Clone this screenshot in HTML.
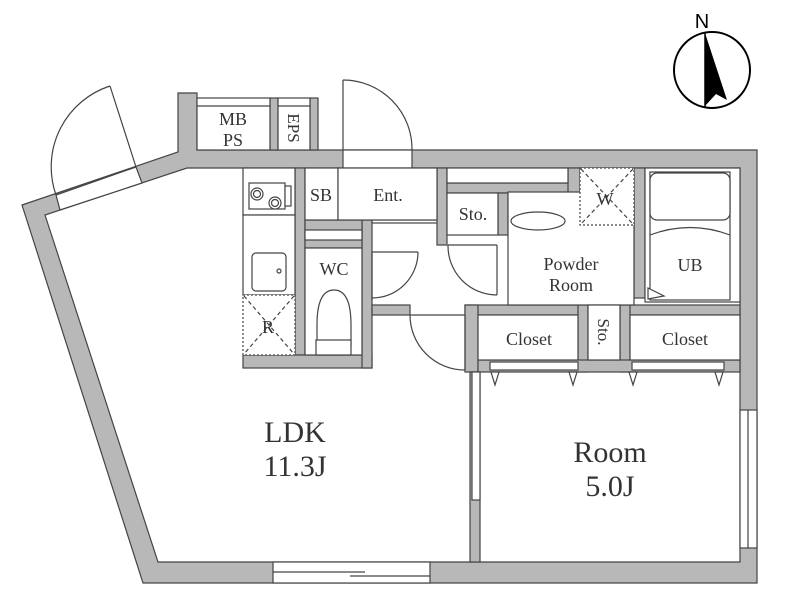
<!DOCTYPE html>
<html><head><meta charset="utf-8"><style>
html,body{margin:0;padding:0;background:#fff;}
svg{display:block;}
text{font-family:"Liberation Serif",serif;fill:#333;}
</style></head><body>
<svg width="800" height="598" viewBox="0 0 800 598" xmlns="http://www.w3.org/2000/svg">
<g stroke="#444" stroke-width="1.2" fill="#b8b8b8">
<path d="M22,205 L178,152 L178,93 L197,93 L197,150 L757,150 L757,583 L143,583 Z M45,215 L158,562 L740,562 L740,168 L187,168 Z" fill-rule="evenodd"/>
<rect x="270" y="98" width="8" height="52"/>
<rect x="310" y="98" width="8" height="52"/>
<rect x="295" y="168" width="10" height="187"/>
<rect x="243" y="355" width="129" height="13"/>
<rect x="362" y="220" width="10" height="148"/>
<rect x="305" y="220" width="57" height="28"/>
<rect x="372" y="220" width="75" height="3" fill="#fff"/>
<rect x="437" y="168" width="10" height="77"/>
<rect x="447" y="183" width="126" height="10"/>
<rect x="498" y="193" width="10" height="42"/>
<rect x="568" y="168" width="12" height="57"/>
<rect x="634" y="168" width="11" height="130"/>
<rect x="465" y="305" width="275" height="10"/>
<rect x="372" y="305" width="38" height="10"/>
<rect x="465" y="305" width="13" height="67"/>
<rect x="578" y="305" width="10" height="67"/>
<rect x="620" y="305" width="10" height="67"/>
<rect x="478" y="360" width="262" height="12"/>
<rect x="470" y="372" width="10" height="190"/>
</g>
<g stroke="#444" stroke-width="1.2" fill="#fff">
<polygon points="56,195 136,167 142,183 60,210"/>
<rect x="273" y="562" width="157" height="21"/>
<line x1="273" y1="572" x2="365" y2="572"/><line x1="350" y1="576" x2="430" y2="576"/>
<rect x="740" y="410" width="17" height="138"/>
<line x1="748" y1="410" x2="748" y2="548"/>
<rect x="472" y="372" width="8" height="128"/>
<rect x="343" y="150" width="69" height="18"/>
<rect x="197" y="98" width="73" height="52"/><line x1="197" y1="106" x2="270" y2="106"/>
<rect x="278" y="98" width="32" height="52"/><line x1="278" y1="106" x2="310" y2="106"/>
<rect x="243" y="168" width="52" height="47"/>
<rect x="249" y="183" width="36" height="26"/><rect x="285" y="186" width="6" height="20"/>
<circle cx="257" cy="194" r="6"/><circle cx="257" cy="194" r="3.5"/>
<circle cx="275" cy="203" r="6"/><circle cx="275" cy="203" r="3.5"/>
<rect x="243" y="215" width="52" height="80"/>
<rect x="252" y="253" width="34" height="38" rx="4"/>
<circle cx="279" cy="271" r="2"/>
<rect x="305" y="168" width="33" height="52"/>
<rect x="338" y="168" width="99" height="52"/>
<rect x="305" y="230" width="57" height="10"/>
<rect x="305" y="248" width="57" height="107"/>
<path d="M317,325 Q317,290 334,290 Q351,290 351,325 L351,345 L317,345 Z"/>
<rect x="316" y="340" width="35" height="15"/>
<rect x="447" y="168" width="121" height="15"/>
<rect x="447" y="193" width="51" height="42"/>
<rect x="508" y="192" width="126" height="113"/>
<ellipse cx="538" cy="221" rx="27" ry="9"/>
<rect x="580" y="168" width="54" height="57" stroke-dasharray="2,2"/>
<line x1="581" y1="169" x2="633" y2="224" stroke-dasharray="4,3"/><line x1="633" y1="169" x2="581" y2="224" stroke-dasharray="4,3"/>
<rect x="243" y="295" width="52" height="60" stroke-dasharray="2,2"/>
<line x1="244" y1="296" x2="294" y2="354" stroke-dasharray="4,3"/><line x1="294" y1="296" x2="244" y2="354" stroke-dasharray="4,3"/>
<rect x="645" y="168" width="95" height="134"/>
<rect x="650" y="172" width="80" height="128"/>
<rect x="650" y="173" width="80" height="47" rx="7"/>
<path d="M650,235 Q690,220 730,235" fill="none"/>
<polygon points="648,288 664,296 648,299"/>
<rect x="478" y="315" width="100" height="45"/>
<rect x="588" y="305" width="32" height="55"/>
<rect x="630" y="315" width="110" height="45"/>
<rect x="490" y="362" width="88" height="8"/><rect x="632" y="362" width="92" height="8"/>
</g>
<g fill="#fff" stroke="#444" stroke-width="1.2">
<polygon points="491,372 499,372 495,385"/><polygon points="569,372 577,372 573,385"/>
<polygon points="629,372 637,372 633,385"/><polygon points="715,372 723,372 719,385"/>
</g>
<g fill="none" stroke="#444" stroke-width="1.2">
<line x1="136" y1="167" x2="110" y2="86"/>
<path d="M110,86 A85,85 0 0 0 56,195"/>
<line x1="343" y1="80" x2="343" y2="150"/>
<path d="M343,80 A69,69 0 0 1 412,150"/>
<line x1="372" y1="252" x2="372" y2="300"/>
<line x1="372" y1="252" x2="418" y2="252"/><path d="M418,252 A46,46 0 0 1 372,298"/>
<line x1="448" y1="245" x2="497" y2="245"/><line x1="497" y1="245" x2="497" y2="295"/>
<path d="M448,245 A49,49 0 0 0 497,295"/>
<line x1="410" y1="315" x2="465" y2="315"/><line x1="465" y1="315" x2="465" y2="370"/>
<path d="M410,315 A55,55 0 0 0 465,370"/>
<circle cx="712" cy="70" r="38" stroke="#000" stroke-width="2"/>
</g>
<polygon points="705,33 727,100 716,94 705,106" fill="#000"/>
<line x1="705" y1="32" x2="705" y2="108" stroke="#000" stroke-width="1.5"/>
<text x="702" y="28" font-size="20" text-anchor="middle" style="font-family:'Liberation Sans',sans-serif;fill:#000">N</text>
<g font-size="18" text-anchor="middle">
<text x="233" y="125">MB</text><text x="233" y="146">PS</text>
<text x="0" y="0" transform="translate(288,128) rotate(90)" font-size="17">EPS</text>
<text x="321" y="201">SB</text><text x="388" y="201">Ent.</text>
<text x="473" y="220">Sto.</text>
<text x="334" y="275">WC</text>
<text x="268" y="333">R</text>
<text x="605" y="205">W</text>
<text x="571" y="270">Powder</text><text x="571" y="291">Room</text>
<text x="690" y="271">UB</text>
<text x="529" y="345">Closet</text><text x="685" y="345">Closet</text>
<text x="0" y="0" transform="translate(598,332) rotate(90)" font-size="17">Sto.</text>
</g>
<g font-size="30" text-anchor="middle">
<text x="295" y="442">LDK</text><text x="295" y="476">11.3J</text>
<text x="610" y="462">Room</text><text x="610" y="496">5.0J</text>
</g>
</svg>
</body></html>
